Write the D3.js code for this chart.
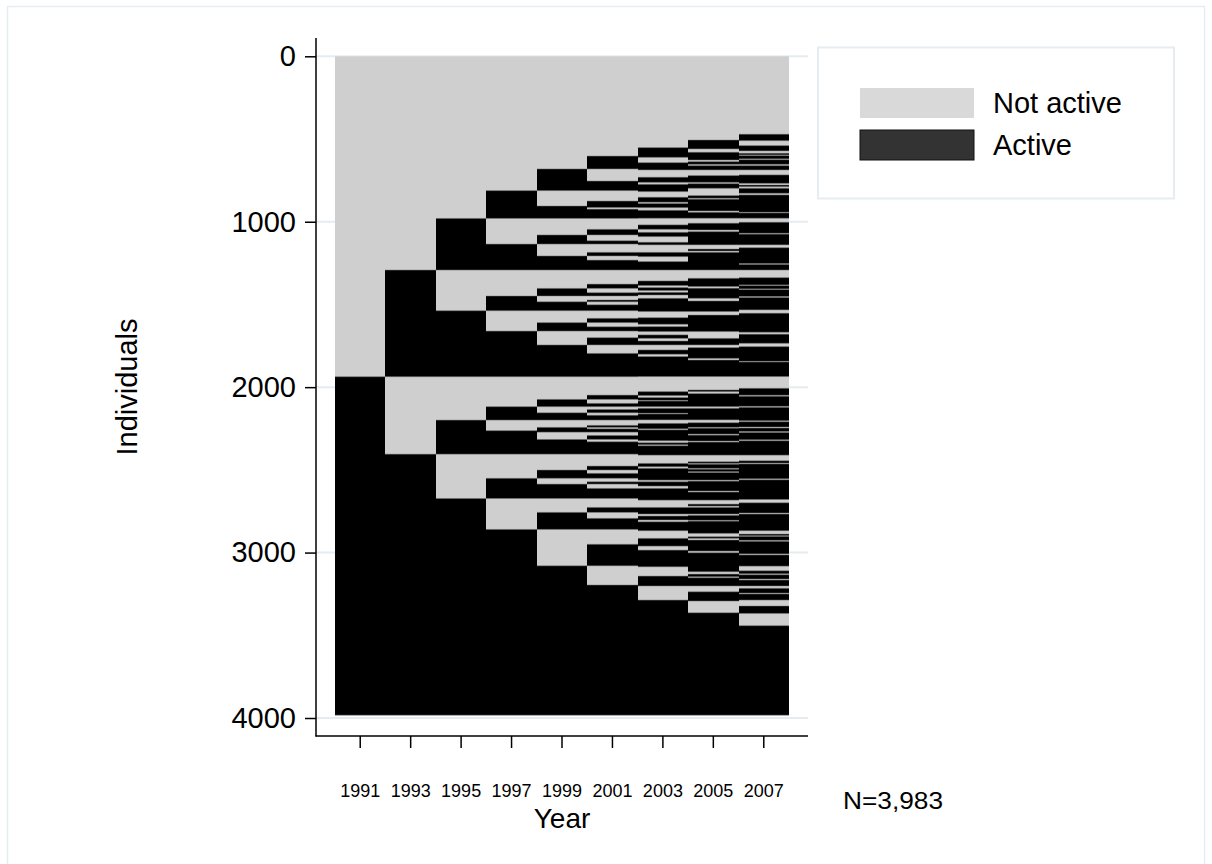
<!DOCTYPE html>
<html><head><meta charset="utf-8">
<script src="https://cdn.jsdelivr.net/npm/d3@7"></script>
<style>body{margin:0;background:#fff} svg{display:block}</style>
</head><body><svg id="c" width="1212" height="864"></svg>
<script>
// ---------- data ----------
const years = [1991, 1993, 1995, 1997, 1999, 2001, 2003, 2005, 2007];
const totalIndividuals = 3983;
const yTicks = [0, 1000, 2000, 3000, 4000];
const legendLabels = ["Not active", "Active"];
const legendColors = ["#d9d9d9", "#333333"];
const nLabel = "N=3,983";

// individuals (sorted index ranges) that are active in each year
const active1991 = [[1937,3983]];
const active1993 = [[1292,1937],[2405,3983]];
const active1995 = [[980,1292],[1538,1937],[2199,2405],[2673,3983]];
const active1997 = [[812,980],[1135,1292],[1449,1538],[1661,1937],[2118,2199],[2263,2405],[2551,2673],[2860,3983]];
const active1999 = [[681,812],[905,980],[1080,1135],[1207,1292],[1403,1449],[1484,1538],[1610,1661],[1745,1937],
  [2074,2118],[2155,2199],[2243,2272],[2316,2405],[2501,2551],[2586,2673],[2757,2860],[3080,3983]];
const active2001 = [[603,681],[754,812],[875,914],[924,980],[1046,1080],[1115,1135],[1185,1207],[1232,1292],
  [1377,1403],[1429,1449],[1473,1484],[1502,1538],[1584,1610],[1635,1661],[1701,1745],[1796,1937],
  [2048,2074],[2098,2118],[2135,2155],[2170,2199],[2231,2243],[2252,2272],[2292,2316],[2330,2405],
  [2477,2501],[2521,2551],[2572,2586],[2612,2673],[2727,2757],[2793,2860],[2950,3080],[3196,3983]];
const active2003 = [[552,611],[643,687],[731,762],[774,818],[852,882],[890,915],[931,979],[1019,1046],
  [1064,1090],[1124,1140],[1185,1211],[1241,1292],[1358,1386],[1398,1416],[1427,1443],[1463,1543],
  [1580,1620],[1634,1664],[1684,1705],[1721,1745],[1775,1801],[1815,1936],[2027,2051],[2063,2080],
  [2084,2118],[2128,2158],[2162,2198],[2219,2252],[2258,2324],[2336,2348],[2354,2411],[2461,2481],
  [2491,2562],[2572,2598],[2612,2683],[2727,2767],[2779,2803],[2814,2868],[2914,2961],[2985,3086],
  [3142,3202],[3287,3983]];
const active2005 = [[506,560],[580,627],[637,653],[661,687],[721,762],[770,798],[842,858],[864,935],
  [943,979],[1009,1050],[1060,1140],[1165,1177],[1185,1292],[1342,1392],[1402,1463],[1479,1543],
  [1564,1664],[1705,1745],[1761,1826],[1836,1936],[2017,2027],[2039,2118],[2128,2198],[2215,2243],
  [2248,2284],[2290,2326],[2332,2411],[2451,2461],[2466,2491],[2496,2511],[2516,2562],[2568,2628],
  [2634,2683],[2707,2719],[2727,2767],[2775,2805],[2810,2884],[2904,2914],[2924,2991],[3001,3116],
  [3130,3146],[3152,3202],[3237,3293],[3364,3983]];
const active2007 = [[471,510],[540,572],[586,596],[600,620],[625,653],[661,687],[717,768],[778,788],
  [798,828],[838,943],[947,979],[1003,1070],[1075,1140],[1157,1253],[1258,1292],[1338,1382],
  [1386,1406],[1410,1452],[1458,1533],[1553,1668],[1680,1735],[1755,1844],[1848,1936],[2007,2049],
  [2055,2116],[2122,2203],[2209,2241],[2247,2268],[2274,2318],[2324,2411],[2445,2459],[2464,2554],
  [2560,2679],[2699,2761],[2767,2868],[2888,2898],[2902,2926],[2932,3008],[3014,3082],[3110,3128],
  [3134,3160],[3166,3202],[3216,3245],[3250,3287],[3323,3368],[3442,3983]];
const activeByYear = [active1991, active1993, active1995, active1997, active1999,
                      active2001, active2003, active2005, active2007];

// ---------- drawing ----------
const FONT = "'Liberation Sans', Arial, sans-serif";
const svg = d3.select("#c");

svg.append("rect").attr("x", 7.5).attr("y", 6.5).attr("width", 1197).attr("height", 900)
  .attr("fill", "none").attr("stroke", "#e6edf1").attr("stroke-width", 1.5);

const x = d3.scaleBand().domain(years).range([335, 789]).padding(0);
const y = d3.scaleLinear().domain([0, 4000]).range([56.3, 718]);
const bx = d => Math.round(x(d));
const bw = d => Math.round(x(d) + x.bandwidth()) - Math.round(x(d));

// grid lines
svg.append("g").selectAll("line").data(yTicks).join("line")
  .attr("x1", 316).attr("x2", 808).attr("y1", d => y(d)).attr("y2", d => y(d))
  .attr("stroke", "#e4ecf0").attr("stroke-width", 2);

// not active background per year
svg.append("g").selectAll("rect").data(years).join("rect")
  .attr("x", bx).attr("width", bw)
  .attr("y", y(0)).attr("height", y(totalIndividuals) - y(0))
  .attr("fill", "#cfcfcf");

// active segments
const segs = years.flatMap((yr, i) => activeByYear[i].map(([a, b]) => ({ yr, a, b })));
svg.append("g").selectAll("rect").data(segs).join("rect")
  .attr("x", d => bx(d.yr)).attr("width", d => bw(d.yr))
  .attr("y", d => y(d.a)).attr("height", d => y(d.b) - y(d.a))
  .attr("fill", "#000");

// thin grey edges where sequences change state (as in the original rendering)
const edges = segs.flatMap(s => [{ yr: s.yr, v: s.a }, { yr: s.yr, v: s.b }]);
svg.append("g").selectAll("line").data(edges).join("line")
  .attr("x1", d => bx(d.yr)).attr("x2", d => bx(d.yr) + bw(d.yr))
  .attr("y1", d => y(d.v)).attr("y2", d => y(d.v))
  .attr("stroke", "#7a7a7a").attr("stroke-width", 0.5);

// y axis
const gy = svg.append("g").attr("transform", "translate(316,0)")
  .call(d3.axisLeft(y).tickValues(yTicks).tickFormat(d3.format("d"))
    .tickSize(11).tickPadding(9).tickSizeOuter(0));
gy.select(".domain").remove();
gy.attr("font-family", FONT).attr("font-size", 29);
gy.selectAll("line").attr("stroke", "#000").attr("stroke-width", 1.5);
gy.selectAll("text").attr("fill", "#000");
svg.append("line").attr("x1", 316).attr("x2", 316).attr("y1", 38).attr("y2", 736.5)
  .attr("stroke", "#000").attr("stroke-width", 1.5);

// x axis
const gx = svg.append("g").attr("transform", "translate(0,736)")
  .call(d3.axisBottom(x).tickSize(12).tickPadding(36).tickSizeOuter(0));
gx.select(".domain").remove();
gx.attr("font-family", FONT).attr("font-size", 18);
gx.selectAll("line").attr("stroke", "#000").attr("stroke-width", 1.5);
gx.selectAll("text").attr("fill", "#000");
svg.append("line").attr("x1", 315.5).attr("x2", 808).attr("y1", 736).attr("y2", 736)
  .attr("stroke", "#000").attr("stroke-width", 1.5);

// titles
svg.append("text").attr("x", 562).attr("y", 828).attr("text-anchor", "middle")
  .attr("font-family", FONT).attr("font-size", 28).text("Year");
svg.append("text").attr("transform", "translate(137,387) rotate(-90)").attr("text-anchor", "middle")
  .attr("font-family", FONT).attr("font-size", 29).text("Individuals");
svg.append("text").attr("x", 843).attr("y", 809)
  .attr("font-family", FONT).attr("font-size", 23)
  .attr("textLength", 100).attr("lengthAdjust", "spacingAndGlyphs").text(nLabel);

// legend
svg.append("rect").attr("x", 818).attr("y", 47.5).attr("width", 356).attr("height", 151)
  .attr("fill", "#fff").attr("stroke", "#e6edf1").attr("stroke-width", 2);
const lg = svg.append("g").selectAll("g").data(legendLabels).join("g")
  .attr("transform", (d, i) => `translate(860,${88 + i * 42})`);
lg.append("rect").attr("width", 114).attr("height", 30)
  .attr("fill", (d, i) => legendColors[i])
  .attr("stroke", (d, i) => i === 1 ? "#111" : "none").attr("stroke-width", 1);
lg.append("text").attr("x", 133).attr("y", 25).attr("font-family", FONT).attr("font-size", 29)
  .attr("fill", "#000").text(d => d);
</script></body></html>
